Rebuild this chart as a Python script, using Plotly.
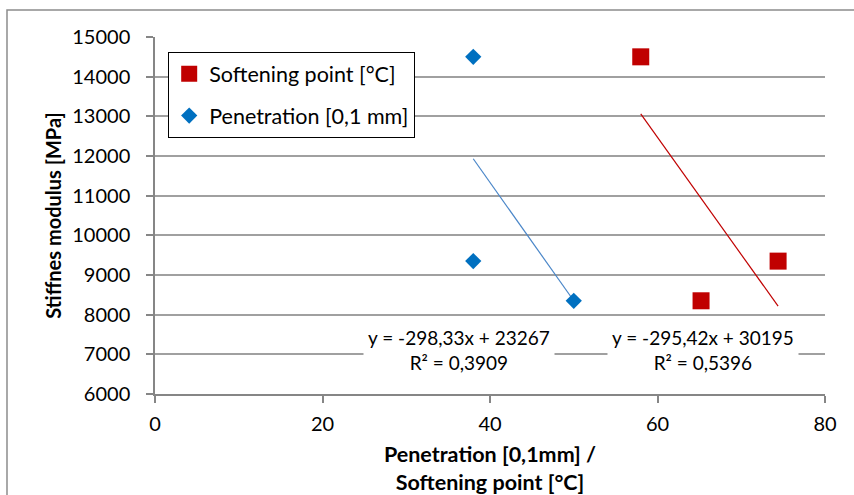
import plotly.graph_objects as go

# Measured samples
soft_x = [58.0, 65.2, 74.4]
soft_y = [14500, 8350, 9350]
pen_x = [38.0, 38.0, 50.0]
pen_y = [14500, 9350, 8350]

# Linear trend coefficients (slope, intercept, R²)
soft_fit = (-295.42, 30195, 0.5396)
pen_fit = (-298.33, 23267, 0.3909)

# Where the trend equations are printed (x, y in data units)
pen_label_pos = (36.3, 7110)
soft_label_pos = (65.4, 7110)

x_ticks = [0, 20, 40, 60, 80]
y_ticks = list(range(6000, 15001, 1000))

RED = "#C00000"
BLUE = "#0070C0"
FONT = "Lato"


def fit_line(xs, coef):
    lo, hi = min(xs), max(xs)
    return [lo, hi], [coef[0] * lo + coef[1], coef[0] * hi + coef[1]]


def fmt(v, nd):
    return f"{v:.{nd}f}".replace(".", ",")


def eq_text(coef):
    sign = "-" if coef[0] < 0 else ""
    return (f"y = {sign}{fmt(abs(coef[0]), 2)}x + {coef[1]}"
            f"<br>R² = {fmt(coef[2], 4)}")


fig = go.Figure()

px_, py_ = fit_line(pen_x, pen_fit)
fig.add_trace(go.Scatter(x=px_, y=py_, mode="lines", showlegend=False,
                         line=dict(color="#4A86C8", width=1.2), hoverinfo="skip"))
sx_, sy_ = fit_line(soft_x, soft_fit)
fig.add_trace(go.Scatter(x=sx_, y=sy_, mode="lines", showlegend=False,
                         line=dict(color=RED, width=1.2), hoverinfo="skip"))

fig.add_trace(go.Scatter(x=soft_x, y=soft_y, mode="markers",
                         name="Softening point [°C]", legendgroup="a",
                         marker=dict(symbol="square", size=17, color=RED)))
fig.add_trace(go.Scatter(x=pen_x, y=pen_y, mode="markers",
                         name="Penetration [0,1 mm]", legendgroup="b",
                         marker=dict(symbol="diamond", size=12.5, color=BLUE)))

for pos, coef in ((pen_label_pos, pen_fit), (soft_label_pos, soft_fit)):
    fig.add_annotation(x=pos[0], y=pos[1], xref="x", yref="y",
                       text=eq_text(coef), showarrow=False, align="center",
                       bgcolor="white", borderpad=4,
                       font=dict(family=FONT, size=19, color="#000"))

# outer chart frame
fig.add_shape(type="rect", xref="paper", yref="paper",
              x0=-0.2209, x1=1.3, y0=-0.5, y1=1.0756,
              line=dict(color="#8C8C8C", width=1.5), layer="below")

axis_common = dict(showline=True, linecolor="#868686", linewidth=1.5,
                   ticks="outside", tickcolor="#868686", tickwidth=1.5,
                   ticklen=7, zeroline=False, automargin=False,
                   tickformat="d",
                   tickfont=dict(family=FONT, size=20, color="#000"))

fig.update_xaxes(range=[0, 80], tickvals=x_ticks, showgrid=False,
                 ticklabelstandoff=4,
                 title=dict(text="<b>Penetration [0,1mm] /<br>Softening point [°C]</b>",
                            font=dict(family=FONT, size=21.5, color="#000"),
                            standoff=15),
                 **axis_common)
fig.update_yaxes(range=[6000, 15000], tickvals=y_ticks, showgrid=True,
                 gridcolor="#A0A0A0", gridwidth=1.5, ticklabelstandoff=12,
                 title=dict(text="<b>Stiffnes modulus [MPa]</b>",
                            font=dict(family=FONT, size=20, color="#000"),
                            standoff=5),
                 **axis_common)

fig.update_layout(
    width=854, height=495,
    margin=dict(l=155, r=29, t=37, b=101, autoexpand=False),
    paper_bgcolor="white", plot_bgcolor="white",
    font=dict(family=FONT, size=20, color="#000"),
    showlegend=True,
    legend=dict(x=0.0194, y=0.958, xanchor="left", yanchor="top",
                bgcolor="white", bordercolor="#000", borderwidth=1.2,
                traceorder="grouped", tracegroupgap=11,
                font=dict(family=FONT, size=21.5, color="#000"),
                itemwidth=30),
)

fig.write_html("out.html")
